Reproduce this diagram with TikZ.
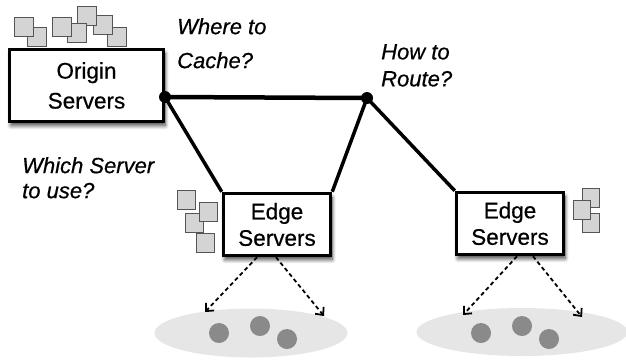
\documentclass[tikz,border=0pt]{standalone}
\usepackage{fontspec}
\setmainfont{Liberation Sans}[FakeBold=0.6]
\usetikzlibrary{positioning,calc,arrows.meta,shapes.geometric,shadows.blur}

\definecolor{cachegray}{HTML}{D4D4D4}
\definecolor{cacheedge}{HTML}{555555}
\definecolor{langray}{HTML}{E6E6E6}
\definecolor{usergray}{HTML}{8A8A8A}

\tikzset{
  serverbox/.style={draw, line width=3.5pt, fill=white, align=center, inner sep=0pt,
    blur shadow={shadow xshift=1.5pt, shadow yshift=-4pt, shadow blur steps=8,
      shadow blur radius=4pt, shadow opacity=75}},
  question/.style={anchor=north west, inner sep=0pt, align=left},
  hop/.style={circle, fill=black, inner sep=0pt, minimum size=12pt},
  link/.style={line width=3.5pt},
  cachebox/.style={draw=cacheedge, fill=cachegray, line width=1pt},
  lan/.style={ellipse, fill=langray, inner sep=0pt},
  user/.style={circle, fill=usergray, inner sep=0pt, minimum size=20pt},
  fetch/.style={line width=1.8pt, dash pattern=on 4pt off 3pt,
    -{Straight Barb[length=6pt,width=11pt,line width=1.8pt]}}
}

\begin{document}
\begin{tikzpicture}[x=1pt,y=-1pt]
    \useasboundingbox (0,0) rectangle (626,360);

    % client networks
    \node[lan, minimum width=193pt, minimum height=49pt] (lanA) at (251,333) {};
    \node[lan, minimum width=211pt, minimum height=48pt] (lanB) at (522,332) {};
    \node[user] (uA1) at (219,333) {};
    \node[user] (uA2) at (260,326) {};
    \node[user] (uA3) at (287,339) {};
    \node[user] (uB1) at (481,333) {};
    \node[user] (uB2) at (522,326) {};
    \node[user] (uB3) at (549,339) {};

    % cached objects
    \foreach \x/\y in {107/27, 93/15, 77/6, 67/23, 52/17, 27/27, 14/17}
        \draw[cachebox] (\x,\y) rectangle ++(19,19);
    \foreach \x/\y in {196/233, 185/213, 199/202, 177/190}
        \draw[cachebox] (\x,\y) rectangle ++(18,19);
    \foreach \x/\y in {582/213, 582/188, 573/200}
        \draw[cachebox] (\x,\y) rectangle ++(17,19);

    % servers
    \node[serverbox, minimum width=154pt, minimum height=72pt,
          font=\fontsize{22.5}{30}\selectfont] (origin) at (86.5,85.5) {Origin\\Servers};
    \node[serverbox, minimum width=107pt, minimum height=62pt,
          font=\fontsize{22.5}{26.5}\selectfont] (edgeA) at (277,224.5) {Edge\\Servers};
    \node[serverbox, minimum width=107pt, minimum height=62pt,
          font=\fontsize{22.5}{26.5}\selectfont] (edgeB) at (510,223.5) {Edge\\Servers};

    % routing
    \node[hop] (hubL) at (165,97) {};
    \node[hop] (hubR) at (367,98) {};
    \draw[line width=4.5pt] (hubL.center) -- (hubR.center);
    \draw[link] (hubL.center) -- (edgeA.north west);
    \draw[link] (hubR.center) -- (edgeA.north east);
    \draw[link] (hubR.center) -- (edgeB.north west);

    % delivery to clients
    \coordinate (dA1) at (205,312);
    \coordinate (dA2) at (324,316);
    \coordinate (dB1) at (463,315);
    \coordinate (dB2) at (582,317);
    \draw[fetch] ([xshift=-20pt]edgeA.south) -- (dA1);
    \draw[fetch] ([xshift=-1pt]edgeA.south) -- (dA2);
    \draw[fetch] ([xshift=7pt]edgeB.south) -- (dB1);
    \draw[fetch] ([xshift=23pt]edgeB.south) -- (dB2);

    % questions
    \node[question, font=\fontsize{22}{34}\selectfont\itshape] (qcache) at (177,18) {Where to\\Cache?};
    \node[question, font=\fontsize{22}{27}\selectfont\itshape] (qroute) at (381,44) {How to\\Route?};
    \node[question, font=\fontsize{22}{25}\selectfont\itshape] (qserver) at (22,157) {Which Server\\to use?};
\end{tikzpicture}
\end{document}
